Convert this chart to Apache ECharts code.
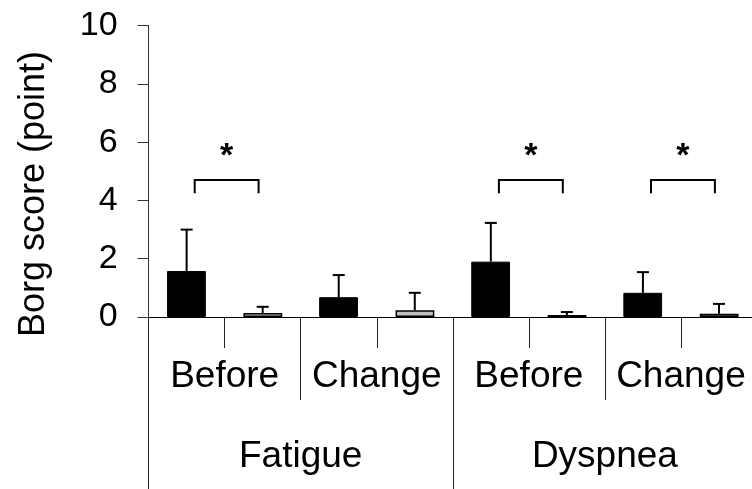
<!DOCTYPE html>
<html>
<head>
<meta charset="utf-8">
<script src="https://cdn.jsdelivr.net/npm/echarts@6/dist/echarts.min.js"></script>
<style>
html,body{margin:0;padding:0;background:#fff;}
#chart{width:752px;height:489px;}
</style>
</head>
<body>
<div id="chart"></div>
<script>
// ---- data ----
var outcomes = ['Fatigue', 'Dyspnea'];
var phases = ['Before', 'Change', 'Before', 'Change'];
var slots = ['F-B-1', 'F-B-2', 'F-C-1', 'F-C-2', 'D-B-1', 'D-B-2', 'D-C-1', 'D-C-2'];
var yTicks = [0, 2, 4, 6, 8, 10];
var group1Mean = [1.58, 0.68, 1.90, 0.83];
var group1Upper = [3.00, 1.44, 3.23, 1.54];
var group2Mean = [0.14, 0.23, 0.07, 0.11];
var group2Upper = [0.35, 0.83, 0.17, 0.45];
var sigIndex = [0, 2, 3];
var sigLow = [4.25, 4.25, 4.25];
var sigHigh = [4.70, 4.70, 4.70];
var sigStar = [5.50, 5.50, 5.50];

var FONT = '"Liberation Sans", Arial, sans-serif';

var errData = [];
for (var i = 0; i < 4; i++) {
  errData.push([i, 0, group1Mean[i], group1Upper[i]]);
  errData.push([i, 1, group2Mean[i], group2Upper[i]]);
}
var sigData = sigIndex.map(function (c, k) { return [c, sigLow[k], sigHigh[k], sigStar[k]]; });

var chart = echarts.init(document.getElementById('chart'), null, {renderer: 'canvas'});
chart.setOption({
  animation: false,
  backgroundColor: '#fff',
  grid: {left: 148.6, right: -5, top: 25.7, bottom: 172, outerBoundsMode: 'none', containLabel: false},
  xAxis: [
    {
      type: 'category', data: slots, position: 'bottom',
      axisLine: {show: true, lineStyle: {color: '#000', width: 1}},
      axisTick: {show: true, length: 31, interval: 0, lineStyle: {color: '#222', width: 1}},
      axisLabel: {show: false}, splitLine: {show: false}
    },
    {
      type: 'category', data: phases, position: 'bottom',
      axisLine: {show: false},
      axisTick: {show: true, length: 83, interval: 0, lineStyle: {color: '#222', width: 1}},
      axisLabel: {show: true, interval: 0, margin: 41, color: '#000', fontSize: 37, fontFamily: FONT},
      splitLine: {show: false}
    },
    {
      type: 'category', data: outcomes, position: 'bottom',
      axisLine: {show: false},
      axisTick: {show: true, length: 175, interval: 0, lineStyle: {color: '#222', width: 1}},
      axisLabel: {show: true, interval: 0, margin: 121, color: '#000', fontSize: 37, fontFamily: FONT},
      splitLine: {show: false}
    }
  ],
  yAxis: {
    type: 'value', min: 0, max: 10, interval: 2,
    axisLine: {show: true, lineStyle: {color: '#333', width: 1}},
    axisTick: {show: true, length: 11, lineStyle: {color: '#333', width: 1}},
    axisLabel: {color: '#000', fontSize: 34, fontFamily: FONT, margin: 31,
      formatter: function (v) { return yTicks.indexOf(v) >= 0 ? String(v) : ''; }},
    splitLine: {show: false}
  },
  graphic: [{
    type: 'text', x: 34, y: 194, rotation: Math.PI / 2,
    style: {text: 'Borg score (point)', font: '36px ' + FONT, fill: '#000', align: 'center', verticalAlign: 'middle'}
  }],
  series: [
    {
      type: 'bar', xAxisIndex: 1, data: group1Mean, barWidth: '25.5%', barGap: '97%',
      itemStyle: {color: '#000', borderColor: '#000', borderWidth: 1}
    },
    {
      type: 'bar', xAxisIndex: 1, data: group2Mean, barWidth: '25.5%', barGap: '97%',
      itemStyle: {color: '#c0c0c0', borderColor: '#000', borderWidth: 1.5}
    },
    {
      type: 'custom', xAxisIndex: 1, data: errData, z: 5,
      renderItem: function (params, api) {
        var band = api.size([1, 0])[0];
        var off = (api.value(1) === 0 ? -1 : 1) * 0.25 * band;
        var base = api.coord([api.value(0), api.value(2)]);
        var top = api.coord([api.value(0), api.value(3)]);
        var x = base[0] + off;
        var cw = 6;
        return {
          type: 'group',
          children: [
            {type: 'line', shape: {x1: x, y1: base[1], x2: x, y2: top[1]}, style: {stroke: '#000', lineWidth: 2}},
            {type: 'line', shape: {x1: x - cw, y1: top[1], x2: x + cw, y2: top[1]}, style: {stroke: '#000', lineWidth: 2}}
          ]
        };
      }
    },
    {
      type: 'custom', xAxisIndex: 1, data: sigData, z: 5,
      renderItem: function (params, api) {
        var band = api.size([1, 0])[0];
        var hw = 0.21 * band;
        var lo = api.coord([api.value(0), api.value(1)]);
        var hi = api.coord([api.value(0), api.value(2)]);
        var st = api.coord([api.value(0), api.value(3)]);
        var cx = lo[0] + 2;
        return {
          type: 'group',
          children: [
            {type: 'polyline', shape: {points: [[cx - hw, lo[1]], [cx - hw, hi[1]], [cx + hw, hi[1]], [cx + hw, lo[1]]]},
              style: {stroke: '#000', lineWidth: 2, fill: null}},
            {type: 'text', x: cx, y: st[1], style: {text: '*', font: 'bold 34px ' + FONT, fill: '#000', align: 'center', verticalAlign: 'middle'}}
          ]
        };
      }
    }
  ]
});
</script>
</body>
</html>
